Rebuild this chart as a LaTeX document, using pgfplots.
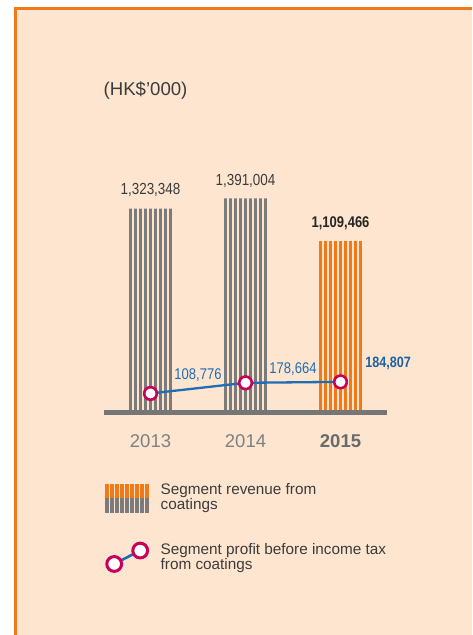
\documentclass[border=0pt]{standalone}
\usepackage{fontspec}
\setmainfont{Liberation Sans}
\newfontfamily\condfont{Liberation Sans}[FakeStretch=0.84]
\usepackage{pgfplots}
\pgfplotsset{compat=1.18}

\definecolor{peach}{HTML}{FDE5CF}
\definecolor{frameOrange}{HTML}{F07A1A}
\definecolor{barOrange}{HTML}{F07A1A}
\definecolor{barGray}{HTML}{7B7B7B}
\definecolor{baseGray}{HTML}{767676}
\definecolor{lineBlue}{HTML}{1F6DB5}
\definecolor{markMagenta}{HTML}{C8005A}
\definecolor{txtDark}{HTML}{3C3C3C}
\definecolor{yearGray}{HTML}{808080}
\definecolor{yearBold}{HTML}{6A6A6A}

\tikzset{
  profit/.style={draw=lineBlue, line width=2.3pt, mark=*, mark size=6.3pt,
    mark options={draw=markMagenta, fill=white, line width=2.6pt, solid}},
  profitkey/.style={draw=lineBlue, line width=2.6pt, mark=*, mark size=7.4pt,
    mark options={draw=markMagenta, fill=white, line width=3pt, solid}},
}

\begin{document}
\begin{tikzpicture}
\useasboundingbox (0,0) rectangle (472pt,635pt);
% panel
\fill[white] (0,0) rectangle (472pt,635pt);
\fill[peach] (14pt,0) rectangle (472pt,628pt);
\fill[frameOrange] (14pt,0) rectangle (17pt,628pt);
\fill[frameOrange] (14pt,624.8pt) rectangle (472pt,628pt);

\node[anchor=base west, inner sep=0pt, text=txtDark, font=\fontsize{18.6}{20}\selectfont]
  at (103.5pt,539.5pt) {(HK\$’000)};

\begin{axis}[
    at={(104pt,222.5pt)}, anchor=south west,
    scale only axis,
    width=282.7pt, height=250pt,
    xmin=-0.4895, xmax=2.486,
    ymin=-16425, ymax=1626075,
    axis x line*=bottom,
    axis y line=none,
    x axis line style={line width=5pt, draw=baseGray, -},
    xtick={0,1,2},
    xticklabels={2013,2014,{\color{yearBold}\bfseries 2015}},
    xtick style={draw=none},
    major tick length=0pt,
    xticklabel style={anchor=base, yshift=-34.8pt, inner sep=0pt,
      text=yearGray, font=\fontsize{18.5}{20}\selectfont},
    ytick=\empty,
    clip=false,
    /pgf/number format/assume math mode=true,
    legend style={at={(0.0035,-0.276)}, anchor=north west, draw=none, fill=none,
      inner sep=0pt, outer sep=0pt, row sep=28pt, column sep=10.5pt,
      font=\fontsize{15.3}{14.2}\selectfont, text=txtDark,
      cells={anchor=west, align=left, inner sep=0pt}},
]
% striped revenue bars, one stripe per bar shift
\pgfplotsinvokeforeach{-20,-15,-10,-5,0,5,10,15,20}{
  \addplot[ybar, bar width=2.8pt, bar shift=#1pt, fill=barGray, draw=none, forget plot]
    coordinates {(0,1323348) (1,1391004)};
  \addplot[ybar, bar width=2.8pt, bar shift=#1pt, fill=barOrange, draw=none, forget plot]
    coordinates {(2,1109466)};
}
% segment profit line
\addplot[profit, forget plot]
  coordinates {(0,108776) (1,178664) (2,184807)};

% value labels
\node[anchor=base, inner sep=0pt, text=txtDark, font=\condfont\fontsize{16}{18}\selectfont]
  at (axis cs:0,1323348) [yshift=14pt] {1,323,348};
\node[anchor=base, inner sep=0pt, text=txtDark, font=\condfont\fontsize{16}{18}\selectfont]
  at (axis cs:1,1391004) [yshift=13pt] {1,391,004};
\node[anchor=base, inner sep=0pt, text=black!85, font=\condfont\bfseries\fontsize{15.5}{18}\selectfont]
  at (axis cs:2,1109466) [yshift=13.7pt] {1,109,466};
\node[anchor=base, inner sep=0pt, text=lineBlue, font=\condfont\fontsize{15.5}{18}\selectfont]
  at (axis cs:0.5,108776) [yshift=14.1pt] {108,776};
\node[anchor=base, inner sep=0pt, text=lineBlue, font=\condfont\fontsize{15.5}{18}\selectfont]
  at (axis cs:1.5,178664) [yshift=9.5pt] {178,664};
\node[anchor=base, inner sep=0pt, text=lineBlue!90!black, font=\condfont\bfseries\fontsize{15}{18}\selectfont]
  at (axis cs:2.5,184807) [yshift=14.6pt] {184,807};

% legend
\addlegendimage{legend image code/.code={
  \foreach \k in {0,...,8}{
    \fill[barOrange] (\k*5pt,0.3pt) rectangle ++(2.8pt,13.4pt);
    \fill[barGray] (\k*5pt,-0.3pt) rectangle ++(2.8pt,-14.4pt);
  }}}
\addlegendentry{Segment revenue from\\coatings}
\addlegendimage{legend image code/.code={
    \draw[profitkey] plot coordinates {(9pt,-6.7pt) (35pt,6.7pt)};}}
\addlegendentry{Segment profit before income tax\\from coatings}
\end{axis}
\end{tikzpicture}
\end{document}
